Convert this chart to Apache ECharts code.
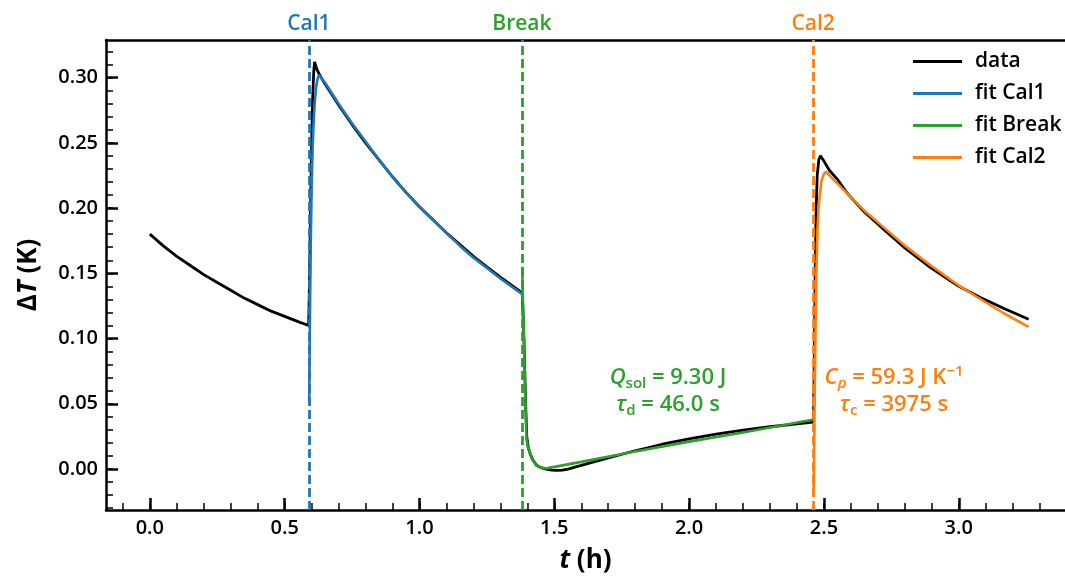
<!DOCTYPE html>
<html>
<head>
    <meta charset="utf-8">
</head>
<body style="margin: 0">
    <div id="container" style="width: 1065px; height: 579px"></div>
    <script src="https://cdn.jsdelivr.net/npm/echarts@6/dist/echarts.min.js"></script>
    <script type="text/javascript">
        // measured curve (black)
        var dataT = [0, 0.05, 0.1, 0.15, 0.2, 0.25, 0.3, 0.35, 0.4, 0.45, 0.5, 0.55, 0.589,
            0.592, 0.596, 0.600, 0.604, 0.608, 0.611, 0.62, 0.63, 0.65, 0.7, 0.75, 0.8, 0.85, 0.9, 0.95, 1.0, 1.05, 1.1, 1.15, 1.2, 1.25, 1.3, 1.381,
            1.386, 1.390, 1.394, 1.398, 1.403, 1.41, 1.42, 1.434, 1.45, 1.47, 1.49, 1.51, 1.53, 1.55, 1.6, 1.7, 1.8, 1.9, 2.0, 2.1, 2.2, 2.3, 2.4, 2.461,
            2.464, 2.467, 2.470, 2.475, 2.481, 2.487, 2.50, 2.52, 2.55, 2.585, 2.65, 2.709, 2.8, 2.894, 3.0, 3.08, 3.17, 3.259];
        var dataV = [0.180, 0.171, 0.163, 0.156, 0.149, 0.143, 0.137, 0.131, 0.126, 0.121, 0.117, 0.113, 0.110,
            0.140, 0.200, 0.250, 0.285, 0.305, 0.312, 0.306, 0.302, 0.295, 0.279, 0.264, 0.250, 0.237, 0.224, 0.212, 0.201, 0.191, 0.181, 0.172, 0.163, 0.155, 0.147, 0.135,
            0.110, 0.080, 0.048, 0.025, 0.017, 0.012, 0.007, 0.003, 0.001, 0.000, -0.0008, -0.001, -0.0008, 0.000, 0.0028, 0.0085, 0.0140, 0.0190, 0.0232, 0.0268, 0.0298, 0.0324, 0.0346, 0.036,
            0.080, 0.140, 0.190, 0.225, 0.237, 0.240, 0.236, 0.229, 0.222, 0.2117, 0.197, 0.186, 0.1695, 0.1545, 0.1400, 0.1315, 0.1228, 0.1148];

        // fit Cal1
        var cal1T = [0.591, 0.594, 0.597, 0.600, 0.604, 0.608, 0.612, 0.617, 0.622, 0.627, 0.65, 0.7, 0.75, 0.8, 0.85, 0.9, 0.95, 1.0, 1.05, 1.1, 1.15, 1.2, 1.25, 1.3, 1.381];
        var cal1V = [0.052, 0.120, 0.175, 0.215, 0.248, 0.268, 0.282, 0.293, 0.299, 0.302, 0.296, 0.280, 0.265, 0.251, 0.237, 0.224, 0.212, 0.201, 0.191, 0.181, 0.171, 0.162, 0.154, 0.146, 0.134];

        // fit Break
        var breakT = [1.381, 1.385, 1.389, 1.393, 1.397, 1.401, 1.409, 1.42, 1.434, 1.45, 1.471, 1.6, 1.8, 2.0, 2.2, 2.462];
        var breakV = [0.155, 0.120, 0.086, 0.052, 0.023, 0.018, 0.0128, 0.007, 0.0025, 0.001, 0.0005, 0.0055, 0.0135, 0.021, 0.028, 0.038];

        // fit Cal2
        var cal2T = [2.462, 2.466, 2.469, 2.472, 2.476, 2.480, 2.484, 2.491, 2.50, 2.508, 2.53, 2.585, 2.65, 2.709, 2.8, 2.894, 3.0, 3.08, 3.17, 3.259];
        var cal2V = [-0.019, 0.060, 0.110, 0.150, 0.184, 0.200, 0.209, 0.221, 0.226, 0.228, 0.223, 0.2115, 0.198, 0.1875, 0.1712, 0.1564, 0.1406, 0.1303, 0.119, 0.109];

        var markerT = [0.590, 1.381, 2.462];
        var markerNames = ['Cal1', 'Break', 'Cal2'];

        var xTicks = [0, 0.5, 1.0, 1.5, 2.0, 2.5, 3.0];
        var yTicks = [0, 0.05, 0.10, 0.15, 0.20, 0.25, 0.30];

        var BLUE = '#1f77b4', ORANGE = '#ff7f0e', GREEN = '#2ca02c';
        var markerColors = [BLUE, GREEN, ORANGE];
        var FONT = "'Open Sans', sans-serif";

        function zip(t, v) {
            return t.map(function (x, i) { return [x, v[i]]; });
        }

        // minor tick positions
        var xMinor = [], yMinor = [];
        for (var i = -1; i <= 33; i++) xMinor.push(+(i / 10).toFixed(1));
        for (var j = -3; j <= 32; j++) yMinor.push(+(j / 100).toFixed(2));

        // right spine falls just outside the picture
        var xMin = -0.1625, xMax = 3.394;
        var yMin = -0.0314, yMax = 0.3288;

        var dom = document.getElementById('container');
        var myChart = echarts.init(dom);

        var lbl = { fontFamily: FONT, fontWeight: 600, fontSize: 20, color: '#000' };
        var spine = { onZero: false, lineStyle: { color: '#000', width: 2.5 } };

        var option = {
            animation: false,
            textStyle: { fontFamily: FONT },
            grid: { left: 106, right: 0, top: 40, bottom: 68 },
            xAxis: [{
                type: 'value', min: xMin, max: xMax,
                axisLine: spine,
                axisTick: { inside: true, length: 12, lineStyle: { width: 2.5, color: '#000' }, customValues: xTicks },
                axisLabel: Object.assign({ customValues: xTicks, margin: 8, formatter: function (v) { return v.toFixed(1); } }, lbl),
                splitLine: { show: false },
                name: '{i|t}{n| (h)}', nameLocation: 'middle', nameGap: 38,
                nameTextStyle: {
                    rich: {
                        i: { fontFamily: FONT, fontSize: 26, fontWeight: 'bold', fontStyle: 'italic', color: '#000' },
                        n: { fontFamily: FONT, fontSize: 26, fontWeight: 'bold', color: '#000' }
                    }
                }
            }, {
                type: 'value', min: xMin, max: xMax, position: 'bottom',
                axisLine: { show: false, onZero: false },
                axisTick: { inside: true, length: 7, lineStyle: { width: 1.5, color: '#000' }, customValues: xMinor },
                axisLabel: { show: false },
                splitLine: { show: false }
            }, {
                type: 'value', min: xMin, max: xMax, position: 'top',
                axisLine: spine,
                axisTick: { show: false },
                axisLabel: { show: false },
                splitLine: { show: false }
            }],
            yAxis: [{
                type: 'value', min: yMin, max: yMax, position: 'left',
                axisLine: Object.assign({ show: true }, spine),
                axisTick: { show: true, inside: true, length: 12, lineStyle: { width: 2.5, color: '#000' }, customValues: yTicks },
                axisLabel: Object.assign({ customValues: yTicks, margin: 8, formatter: function (v) { return v.toFixed(2); } }, lbl),
                splitLine: { show: false },
                name: '{n|Δ}{i|T}{n| (K)}', nameLocation: 'middle', nameGap: 64, nameRotate: 90,
                nameTextStyle: {
                    rich: {
                        i: { fontFamily: FONT, fontSize: 26, fontWeight: 'bold', fontStyle: 'italic', color: '#000' },
                        n: { fontFamily: FONT, fontSize: 26, fontWeight: 'bold', color: '#000' }
                    }
                }
            }, {
                type: 'value', min: yMin, max: yMax, position: 'left',
                axisLine: { show: false, onZero: false },
                axisTick: { show: true, inside: true, length: 7, lineStyle: { width: 1.5, color: '#000' }, customValues: yMinor },
                axisLabel: { show: false },
                splitLine: { show: false }
            }],
            legend: {
                orient: 'vertical', left: 908, top: 46, itemGap: 11,
                itemWidth: 49, itemHeight: 3, icon: 'rect',
                textStyle: { fontFamily: FONT, fontWeight: 600, fontSize: 21, color: '#000', padding: [0, 0, 0, 8] },
                data: ['data', 'fit Cal1', 'fit Break', 'fit Cal2']
            },
            series: [{
                name: 'data', type: 'line', data: zip(dataT, dataV), showSymbol: false, symbol: 'none',
                lineStyle: { color: '#000', width: 2.8 }, itemStyle: { color: '#000' }, z: 2,
                markLine: {
                    symbol: 'none', silent: true, animation: false,
                    data: markerT.map(function (t, k) {
                        return {
                            xAxis: t,
                            lineStyle: { color: markerColors[k], type: [9, 4], width: 2.8 },
                            label: { show: true, position: 'end', formatter: markerNames[k], color: markerColors[k],
                                fontFamily: FONT, fontWeight: 600, fontSize: 21, distance: 5 }
                        };
                    })
                }
            }, {
                name: 'fit Cal1', type: 'line', data: zip(cal1T, cal1V), showSymbol: false, symbol: 'none',
                lineStyle: { color: BLUE, width: 2.6 }, itemStyle: { color: BLUE }, z: 3
            }, {
                name: 'fit Break', type: 'line', data: zip(breakT, breakV), showSymbol: false, symbol: 'none',
                lineStyle: { color: GREEN, width: 2.6 }, itemStyle: { color: GREEN }, z: 3
            }, {
                name: 'fit Cal2', type: 'line', data: zip(cal2T, cal2V), showSymbol: false, symbol: 'none',
                lineStyle: { color: ORANGE, width: 2.6 }, itemStyle: { color: ORANGE }, z: 3
            }],
            graphic: [{
                type: 'text', x: 668, y: 391,
                style: {
                    text: '{qi|Q}{sub|sol}{n| = 9.30 J}\n{ti|τ}{sub|d}{n| = 46.0 s}',
                    align: 'center', verticalAlign: 'middle', fill: GREEN,
                    rich: {
                        qi: { fontFamily: FONT, fontSize: 22, fontWeight: 600, fontStyle: 'italic', lineHeight: 27, fill: GREEN },
                        ti: { fontFamily: FONT, fontSize: 22, fontWeight: 600, fontStyle: 'italic', lineHeight: 27, fill: GREEN },
                        n: { fontFamily: FONT, fontSize: 22, fontWeight: 600, lineHeight: 27, fill: GREEN },
                        sub: { fontFamily: FONT, fontSize: 15, fontWeight: 600, lineHeight: 14, verticalAlign: 'bottom', fill: GREEN }
                    }
                }
            }, {
                type: 'text', x: 894, y: 391,
                style: {
                    text: '{qi|C}{subi|p}{n| = 59.3 J K}{sup|−1}\n{ti|τ}{sub|c}{n| = 3975 s}',
                    align: 'center', verticalAlign: 'middle', fill: ORANGE,
                    rich: {
                        qi: { fontFamily: FONT, fontSize: 22, fontWeight: 600, fontStyle: 'italic', lineHeight: 27, fill: ORANGE },
                        ti: { fontFamily: FONT, fontSize: 22, fontWeight: 600, fontStyle: 'italic', lineHeight: 27, fill: ORANGE },
                        n: { fontFamily: FONT, fontSize: 22, fontWeight: 600, lineHeight: 27, fill: ORANGE },
                        sub: { fontFamily: FONT, fontSize: 15, fontWeight: 600, lineHeight: 14, verticalAlign: 'bottom', fill: ORANGE },
                        subi: { fontFamily: FONT, fontSize: 15, fontWeight: 600, fontStyle: 'italic', lineHeight: 14, verticalAlign: 'bottom', fill: ORANGE },
                        sup: { fontFamily: FONT, fontSize: 15, fontWeight: 600, lineHeight: 13, verticalAlign: 'top', fill: ORANGE }
                    }
                }
            }]
        };

        myChart.setOption(option);
    </script>
</body>
</html>
